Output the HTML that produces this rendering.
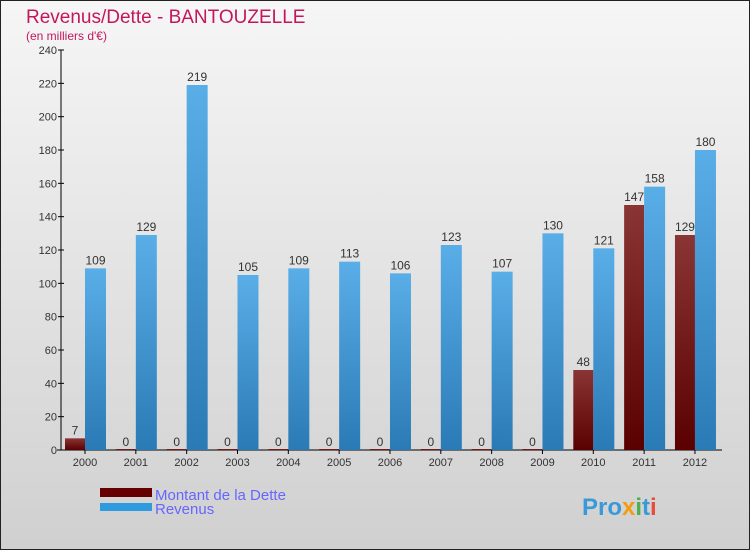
<!DOCTYPE html>
<html><head><meta charset="utf-8"><style>
body{margin:0;width:750px;height:550px;overflow:hidden;font-family:"Liberation Sans",sans-serif}
#wrap{position:absolute;left:0;top:0;width:748px;height:548px;border:1px solid #222;background:linear-gradient(#f6f6f6,#d0d0d0)}
</style></head><body>
<div id="wrap"></div>
<svg id="chart" width="750" height="550" style="position:absolute;left:0;top:0">
<defs>
<linearGradient id="gb" x1="0" x2="0" y1="0" y2="1"><stop offset="0" stop-color="#5aaee8"/><stop offset="1" stop-color="#2a7ab5"/></linearGradient>
<linearGradient id="gr" x1="0" x2="0" y1="0" y2="1"><stop offset="0" stop-color="#8a3535"/><stop offset="1" stop-color="#5a0000"/></linearGradient>
</defs>
<text x="26" y="23" font-size="19" fill="#c2185b">Revenus/Dette - BANTOUZELLE</text>
<text x="26" y="40" font-size="12" fill="#c2185b">(en milliers d'€)</text>
<g id="axes"></g><g id="bars"></g>
<rect x="100" y="488" width="52" height="9" fill="#660000"/>
<rect x="100" y="503" width="52" height="8" fill="#2e9ae0"/>
<text x="155" y="500" font-size="15" fill="#6666ff">Montant de la Dette</text>
<text x="155" y="514" font-size="15" fill="#6666ff">Revenus</text>
<text x="582" y="515" font-size="24" font-weight="bold" fill="#3a9ad9">Pro<tspan fill="#f39c12">x</tspan><tspan fill="#4caf50">i</tspan>t<tspan fill="#e74c3c">i</tspan></text>
</svg>
<script>
const years=["2000","2001","2002","2003","2004","2005","2006","2007","2008","2009","2010","2011","2012"];
const dette=[7,0,0,0,0,0,0,0,0,0,48,147,129];
const revenus=[109,129,219,105,109,113,106,123,107,130,121,158,180];
const yTicks=[0,20,40,60,80,100,120,140,160,180,200,220,240];
const NS="http://www.w3.org/2000/svg";
const y=v=>450-v*400/240;
const xc=i=>85+i*50.83;
function mk(t,a,p){const e=document.createElementNS(NS,t);for(const k in a)e.setAttribute(k,a[k]);p.appendChild(e);return e;}
const ax=document.getElementById('axes'),bg=document.getElementById('bars');
const yl=mk('line',{x1:61,y1:50,x2:61,y2:450,stroke:'#000'},ax);


const xl=mk('line',{x1:57,y1:450,x2:722,y2:450,stroke:'#000'},ax);


yTicks.forEach(v=>{
 mk('line',{x1:58,x2:64,y1:y(v),y2:y(v),stroke:'#000'},ax);
 const t=mk('text',{x:57,y:y(v)+4,'font-size':11,'text-anchor':'end',fill:'#333'},ax);t.textContent=v;
 
 
});
years.forEach((yr,i)=>{
 const c=xc(i);
 mk('line',{x1:c,x2:c,y1:450,y2:454,stroke:'#000'},ax);
 const t=mk('text',{x:c,y:466,'font-size':11,'text-anchor':'middle',fill:'#333'},ax);t.textContent=yr;
 
 
 const d=dette[i],r=revenus[i];
 const b1=mk('rect',{x:c-20,y:y(d)-(d===0?1:0),width:20,height:Math.max(450-y(d),1),fill:'url(#gr)'},bg);
 
 
 const l1=mk('text',{x:c-10,y:y(d)-4,'font-size':12,'text-anchor':'middle',fill:'#333'},bg);l1.textContent=d;
 
 
 const b2=mk('rect',{x:c,y:y(r),width:21,height:450-y(r),fill:'url(#gb)'},bg);
 
 
 const l2=mk('text',{x:c+10.5,y:y(r)-4,'font-size':12,'text-anchor':'middle',fill:'#333'},bg);l2.textContent=r;
 
 
});
</script>
</body></html>
